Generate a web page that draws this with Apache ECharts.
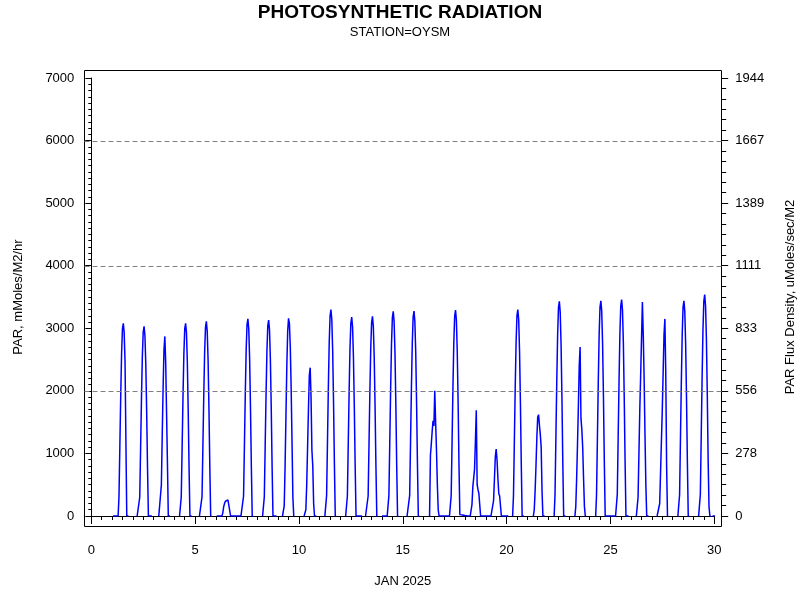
<!DOCTYPE html>
<html>
<head>
<meta charset="utf-8">
<script src="https://cdn.jsdelivr.net/npm/echarts@6/dist/echarts.min.js"></script>
<style>html,body{margin:0;padding:0;background:#fff;}#c{width:800px;height:600px;}</style>
</head>
<body>
<div id="c"></div>
<script>
// ---- data (hourly PAR values, mMoles/M2/hr) ----
const dayNums   = [1,2,3,4,5,6,7,8,9,10,11,12,13,14,15,16,17,18,19,20,21,22,23,24,25,26,27,28,29];
const firstHour = [1,5,6,6,5,1,7,6,5,6,6,6,5,0,5,7,7,7,7,7,7,7,7,7,7,6,6,6,6];
const d01 = [0,0,0,0,0,0,0,310,1110,1910,2590,2990,3080,2930,2460,1200,0,0,0];
const d02 = [0,0,0,300,1090,1880,2550,2940,3030,2880,2420,1670,760,0,0,0,0,0];
const d03 = [0,0,0,500,1300,2050,2650,2870,2450,1650,850,0,0,0];
const d04 = [0,0,310,1110,1910,2590,2990,3080,2930,2460,1690,770,0,0,0];
const d05 = [0,0,0,310,1120,1930,2610,3020,3110,2950,2490,1710,780,0,0];
const d06 = [0,0,0,0,0,0,0,50,145,200,235,250,260,255,240,230,0,0,0,0,0,0,0,0,0,0,0,0,0,0];
const d07 = [0,320,1130,1950,2650,3060,3150,2990,2520,1730,790,0,0];
const d08 = [0,0,310,1130,1940,2630,3040,3130,2970,2500,1720,780,0,0,0,0,0];
const d09 = [0,0,160,800,1600,2400,2950,3160,3080,2700,2050,1200,300,0];
const d10 = [0,0,100,500,1100,1700,2250,2370,1900,1050,800,200,0,0,0];
const d11 = [0,0,330,1190,2050,2770,3200,3300,3140,2640,1820,830,0,0];
const d12 = [0,0,320,1140,1970,2670,3080,3180,3020,2540,1750,800,0,0,0,0,0,0,0,0];
const d13 = [0,0,0,320,1150,1980,2680,3090,3190,3030,2550,1750,800,0,0];
const d14 = [0,0,0,0,0,0,0,0,330,1180,2030,2750,3170,3270,3110,2620,1800,820,0,0];
const d15 = [0,0,0,330,1180,2030,2750,3180,3275,3110,2620,1800,820,0,0];
const d16 = [0,970,1150,1350,1520,1440,2000,1500,1050,500,100,0,0,0,0,0,0,0,0,0,0,0,0,0];
const d17 = [0,330,1180,2040,2760,3190,3290,3130,2630,1810,820,22,20,18,15,13,10,8,6,4,2,0,0,0];
const d18 = [0,180,465,490,750,1200,1690,500,420,360,180,0,0,0,0,0,0,0,0,0,0,0,0,0];
const d19 = [0,0,250,600,950,1070,890,600,360,320,290,0,0,0,0,0,0,0,0,0];
const d20 = [0,330,1190,2050,2770,3200,3300,3140,2640,1820,830,0,0,0];
const d21 = [0,100,400,800,1250,1580,1620,1450,1300,1100,400,0,0,0];
const d22 = [0,340,1230,2130,2880,3330,3430,3260,2740,1890,860,0,0,0];
const d23 = [0,150,600,1150,1750,2400,2700,1560,1380,1100,600,150,0,0];
const d24 = [0,340,1240,2130,2890,3340,3440,3270,2750,1890,860,0,0,0,0,0,0,0,0,0,0,0,0,0];
const d25 = [0,350,1250,2150,2910,3360,3460,3290,2770,1900,870,0,0,0,0];
const d26 = [0,0,300,1000,1700,2250,2260,3420,2900,2200,1300,500,0,0,0];
const d27 = [0,0,0,200,700,1200,1700,2300,2900,3150,2300,800,0,0];
const d28 = [0,0,340,1240,2130,2890,3340,3440,3270,2750,1890,860,0,0];
const d29 = [0,0,350,1270,2190,2970,3430,3540,3360,2830,1950,890,150,0,0,null,0,0,0,0];
const hourly = [d01,d02,d03,d04,d05,d06,d07,d08,d09,d10,d11,d12,d13,d14,d15,d16,d17,d18,d19,d20,d21,d22,d23,d24,d25,d26,d27,d28,d29];

const xTicks = [0,5,10,15,20,25,30];
const parTicks = [0,1000,2000,3000,4000,5000,6000,7000];
const fluxTickLabels = ['0','278','556','833','1111','1389','1667','1944'];
const gridLevels = [2000,4000,6000];

// ---- build series: x = day of month + hour/24 ----
const seriesData = [];
let lastX = null;
for (let k = 0; k < dayNums.length; k++) {
  const day = dayNums[k], h0 = firstHour[k], vals = hourly[k];
  const x0 = day + h0 / 24;
  if (lastX !== null && x0 - lastX > 1.5 / 24) seriesData.push([(lastX + x0) / 2, null]);
  vals.forEach((v, i) => seriesData.push([day + (h0 + i) / 24, v]));
  lastX = day + (h0 + vals.length - 1) / 24;
}

const FONT = 'Liberation Sans';
const lab = {color:'#000', fontFamily:FONT, fontSize:13};
const chart = echarts.init(document.getElementById('c'), null, {renderer:'canvas'});
chart.setOption({
  animation:false,
  backgroundColor:'#fff',
  title:[
    {text:'PHOTOSYNTHETIC RADIATION', left:'center', top:-2,
     textStyle:{fontFamily:FONT, fontSize:19, fontWeight:'bold', color:'#000'}},
    {text:'STATION=OYSM', left:'center', top:21,
     textStyle:{fontFamily:FONT, fontSize:13, fontWeight:'normal', color:'#000'}}
  ],
  grid:[
    {left:91.3, top:78, width:622.9, height:438, show:false, containLabel:false, outerBoundsMode:'none'},
    {left:84.5, top:70.5, width:637, height:456, show:true, borderColor:'#000', borderWidth:1,
     backgroundColor:'transparent', containLabel:false, outerBoundsMode:'none'}
  ],
  xAxis:[
    {type:'value', gridIndex:0, min:xTicks[0], max:xTicks[xTicks.length-1], interval:5, offset:10,
     axisLine:{show:true, lineStyle:{color:'#000', width:1}},
     axisTick:{show:true, length:8, lineStyle:{color:'#000'}},
     minorTick:{show:true, splitNumber:10, length:4, lineStyle:{color:'#000'}},
     splitLine:{show:false},
     axisLabel:Object.assign({margin:18, formatter:(v)=>String(v)}, lab),
     name:'JAN 2025', nameLocation:'middle', nameGap:49, nameTextStyle:lab},
    {type:'value', gridIndex:1, min:0, max:1, show:false}
  ],
  yAxis:[
    {type:'value', gridIndex:0, position:'left', min:parTicks[0], max:parTicks[parTicks.length-1], interval:1000, offset:7,
     axisLine:{show:true, lineStyle:{color:'#000'}},
     axisTick:{show:true, length:6, lineStyle:{color:'#000'}},
     minorTick:{show:true, splitNumber:10, length:3, lineStyle:{color:'#000'}},
     splitLine:{show:false},
     axisLabel:Object.assign({margin:10, formatter:(v)=>String(v)}, lab),
     name:'PAR, mMoles/M2/hr', nameLocation:'middle', nameGap:59, nameRotate:90, nameTextStyle:lab},
    {type:'value', gridIndex:0, position:'right', min:parTicks[0], max:parTicks[parTicks.length-1], interval:1000, offset:7,
     axisLine:{show:true, lineStyle:{color:'#000'}},
     axisTick:{show:true, length:7, lineStyle:{color:'#000'}},
     minorTick:{show:true, splitNumber:6, length:5, lineStyle:{color:'#000'}},
     splitLine:{show:false},
     axisLabel:Object.assign({margin:14, formatter:(v)=>fluxTickLabels[parTicks.indexOf(v)]}, lab),
     name:'PAR Flux Density, uMoles/sec/M2', nameLocation:'middle', nameGap:63, nameRotate:90, nameTextStyle:lab},
    {type:'value', gridIndex:1, min:-159.82, max:7127.85, show:false}
  ],
  series:[
    {type:'line', xAxisIndex:1, yAxisIndex:2, data:[], silent:true,
     markLine:{silent:true, symbol:['none','none'], label:{show:false},
       lineStyle:{color:'#808080', width:1, type:[5,3]},
       data:gridLevels.map(v=>({yAxis:v}))}},
    {type:'line', xAxisIndex:0, yAxisIndex:0, data:seriesData, showSymbol:false, connectNulls:false,
     lineStyle:{color:'#0000ff', width:1.5}, itemStyle:{color:'#0000ff'}}
  ]
});
</script>
</body>
</html>
